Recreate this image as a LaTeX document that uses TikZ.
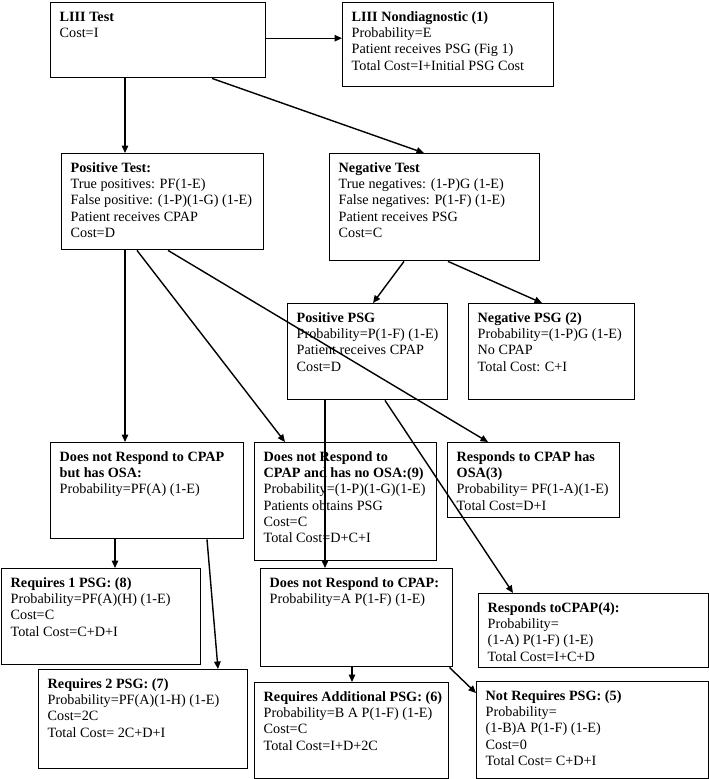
\documentclass[tikz,border=0pt]{standalone}
\usepackage{fontspec}
\setmainfont{Liberation Serif}
\usepackage{tikz}
\usetikzlibrary{arrows.meta}
\newcommand{\boxtext}[3]{\parbox[c][#2][t]{#1}{\rightskip=-10pt plus 1fil\parindent=0pt\strut#3}}
\tikzset{
  costbox/.style={
    draw=black,
    line width=1.4pt,
    anchor=north west,
    inner xsep=9pt,
    inner ysep=7pt,
    font=\fontsize{14.2}{16.3}\selectfont
  },
  flowline/.style={
    draw=black,
    line width=1.4pt,
    -{Triangle[length=7.5pt,width=6.5pt]}
  }
}
\begin{document}
\begin{tikzpicture}[x=1pt,y=-1pt]
  \useasboundingbox (0,0) rectangle (709,779);
  \node[costbox] (lt) at (50,2) {\boxtext{197pt}{61pt}{\textbf{LIII Test}\\Cost=I}};
  \node[costbox] (nd) at (342,2) {\boxtext{193pt}{70pt}{\textbf{LIII Nondiagnostic (1)}\\Probability=E\\Patient receives PSG (Fig 1)\\Total Cost=I+Initial PSG Cost}};
  \node[costbox] (pos) at (61,153) {\boxtext{184pt}{82pt}{\textbf{Positive Test:}\\True positives: PF(1-E)\\False positive: (1-P)(1-G) (1-E)\\Patient receives CPAP\\Cost=D}};
  \node[costbox] (neg) at (329,153) {\boxtext{192pt}{93pt}{\textbf{Negative Test}\\True negatives: (1-P)G (1-E)\\False negatives: P(1-F) (1-E)\\Patient receives PSG\\Cost=C}};
  \node[costbox] (ppsg) at (287,303) {\boxtext{142pt}{82pt}{\textbf{Positive PSG}\\Probability=P(1-F) (1-E)\\Patient receives CPAP\\Cost=D}};
  \node[costbox] (npsg) at (468,303) {\boxtext{148pt}{82pt}{\textbf{Negative PSG (2)}\\Probability=(1-P)G (1-E)\\No CPAP\\Total Cost: C+I}};
  \node[costbox] (nroa) at (50,442) {\boxtext{175pt}{82pt}{\textbf{Does not Respond to CPAP}\\\textbf{but has OSA:}\\Probability=PF(A) (1-E)}};
  \node[costbox] (nrno) at (254,442) {\boxtext{164pt}{104pt}{\textbf{Does not Respond to}\\\textbf{CPAP and has no OSA:(9)}\\Probability=(1-P)(1-G)(1-E)\\Patients obtains PSG\\Cost=C\\Total Cost=D+C+I}};
  \node[costbox] (r3) at (447,442) {\boxtext{154pt}{61pt}{\textbf{Responds to CPAP has}\\\textbf{OSA(3)}\\Probability= PF(1-A)(1-E)\\Total Cost=D+I}};
  \node[costbox] (r8) at (1,568) {\boxtext{181pt}{82pt}{\textbf{Requires 1 PSG: (8)}\\Probability=PF(A)(H) (1-E)\\Cost=C\\Total Cost=C+D+I}};
  \node[costbox] (r7) at (38,669) {\boxtext{191pt}{85pt}{\textbf{Requires 2 PSG: (7)}\\Probability=PF(A)(1-H) (1-E)\\Cost=2C\\Total Cost= 2C+D+I}};
  \node[costbox] (nr) at (260,568) {\boxtext{174pt}{84pt}{\textbf{Does not Respond to CPAP:}\\Probability=A P(1-F) (1-E)}};
  \node[costbox] (r4) at (478,593) {\boxtext{212pt}{60pt}{\textbf{Responds toCPAP(4):}\\Probability=\\(1-A) P(1-F) (1-E)\\Total Cost=I+C+D}};
  \node[costbox] (r6) at (254,682) {\boxtext{176pt}{82pt}{\textbf{Requires Additional PSG: (6)}\\Probability=B A P(1-F) (1-E)\\Cost=C\\Total Cost=I+D+2C}};
  \node[costbox] (r5) at (476,681) {\boxtext{214pt}{83pt}{\textbf{Not Requires PSG: (5)}\\Probability=\\(1-B)A P(1-F) (1-E)\\Cost=0\\Total Cost= C+D+I}};
  % connectors
  \draw[flowline] ([yshift=2pt]lt.east) -- ([yshift=2pt]lt.east -| nd.west);
  \foreach \from/\fx/\to/\tx in {lt/75/pos/64, lt/162/neg/95, pos/64/nroa/75, pos/76/nrno/31, pos/107/r3/41, neg/75/ppsg/86, neg/119/npsg/74, ppsg/38/nr/65, ppsg/98/r4/35, nroa/65/r8/114, nroa/157/r7/180, nr/92/r6/98}
    {\draw[flowline] ([xshift=\fx pt]\from.south west) -- ([xshift=\tx pt]\to.north west);}
  \draw[flowline] ([xshift=-4pt]nr.south east) -- ([yshift=-12pt]r5.north west);
\end{tikzpicture}
\end{document}
